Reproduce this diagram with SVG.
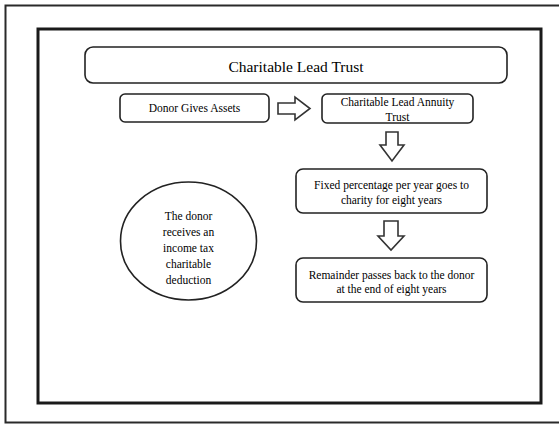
<svg xmlns="http://www.w3.org/2000/svg" width="559" height="425" viewBox="0 0 559 425">
<style>
.box{fill:#fff;stroke:#222;stroke-width:1.6}
.arr{fill:#fff;stroke:#333;stroke-width:1.6;stroke-linejoin:miter}
.lbl{fill:#000;text-anchor:middle;font-family:"Liberation Serif","Times New Roman",serif}
.s{font-size:11.5px}
.t{font-size:15.5px}
</style>
<rect x="0" y="0" width="559" height="425" fill="#fff"/>
<rect x="5.5" y="5.5" width="560" height="417" fill="none" stroke="#2a2a2a" stroke-width="2"/>
<rect x="38" y="29" width="503" height="374" fill="none" stroke="#1a1a1a" stroke-width="3"/>
<g id="title">
<rect class="box" x="85" y="47" width="422" height="36" rx="8"/>
<text class="lbl t" x="296" y="71.5">Charitable Lead Trust</text>
</g>
<g id="donor">
<rect class="box" x="120" y="94" width="149" height="28" rx="5"/>
<text class="lbl s" x="194.5" y="112">Donor Gives Assets</text>
</g>
<g id="clat">
<rect class="box" x="322" y="94" width="151" height="29" rx="5"/>
<text class="lbl s" x="397.5" y="106">Charitable Lead Annuity</text>
<text class="lbl s" x="397.5" y="120.5">Trust</text>
</g>
<g id="fixed">
<rect class="box" x="296" y="169" width="191" height="44" rx="7"/>
<text class="lbl s" x="391.5" y="188.5">Fixed percentage per year goes to</text>
<text class="lbl s" x="391.5" y="204">charity for eight years</text>
</g>
<g id="remainder">
<rect class="box" x="296" y="258" width="191" height="44" rx="7"/>
<text class="lbl s" x="391.5" y="278.5">Remainder passes back to the donor</text>
<text class="lbl s" x="391.5" y="292.5">at the end of eight years</text>
</g>
<g id="deduction">
<ellipse class="box" cx="188.5" cy="241" rx="68" ry="59"/>
<text class="lbl s" x="188.5" y="220">The donor</text>
<text class="lbl s" x="188.5" y="236">receives an</text>
<text class="lbl s" x="188.5" y="252">income tax</text>
<text class="lbl s" x="188.5" y="268">charitable</text>
<text class="lbl s" x="188.5" y="284">deduction</text>
</g>
<g id="connectors">
<path class="arr" d="M278,103 H295 V97 L310,108.5 L295,120 V114 H278 Z"/>
<path class="arr" d="M386,132 H398 V145 H404 L392,161 L380,145 H386 Z"/>
<path class="arr" d="M384,221 H398 V236 H404 L391,250 L378,236 H384 Z"/>
</g>
</svg>
